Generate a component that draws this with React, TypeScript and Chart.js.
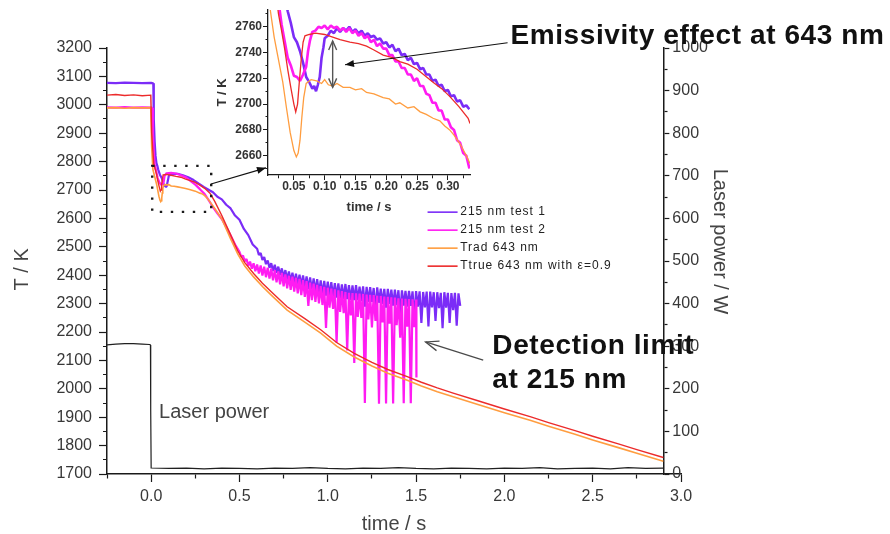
import React, { useEffect, useRef } from "react";
import { Chart, registerables } from "chart.js";

Chart.register(...registerables);

const FONT = "'Liberation Sans', Arial, Helvetica, sans-serif";

const C_PURPLE = "#7b2cf7";
const C_MAGENTA = "#ff1cf2";
const C_ORANGE = "#ff9d3f";
const C_RED = "#ec2b2b";
const C_LASER = "#202020";
const C_AXIS = "#1a1a1a";
const C_TEXT = "#383838";

// ---------------- main chart data ----------------
const purpleTime = [
  -0.25, -0.2, -0.15, -0.1, -0.05, 0, 0.012, 0.015, 0.02, 0.025,
  0.03, 0.035, 0.04, 0.05, 0.06, 0.07, 0.08, 0.087, 0.095, 0.1,
  0.12, 0.15, 0.18, 0.21, 0.24, 0.27, 0.3, 0.33, 0.35, 0.375,
  0.4, 0.425, 0.45, 0.475, 0.5, 0.525, 0.55, 0.575,
  0.6, 0.61, 0.62, 0.63, 0.64, 0.65, 0.66, 0.67, 0.68, 0.69,
  0.7, 0.71, 0.72, 0.73, 0.74, 0.75, 0.76, 0.77, 0.78, 0.79,
  0.8, 0.81, 0.82, 0.83, 0.84, 0.85, 0.86, 0.87, 0.88, 0.89,
  0.9, 0.91, 0.92, 0.93, 0.94, 0.95, 0.96, 0.97, 0.98, 0.99,
  1.0, 1.01, 1.02, 1.03, 1.04, 1.05, 1.06, 1.07, 1.08, 1.09,
  1.1, 1.11, 1.12, 1.13, 1.14, 1.15, 1.16, 1.17, 1.18, 1.19,
  1.2, 1.21, 1.22, 1.23, 1.24, 1.25, 1.26, 1.27, 1.28, 1.29,
  1.3, 1.31, 1.32, 1.33, 1.34, 1.35, 1.36, 1.37, 1.38, 1.39,
  1.4, 1.41, 1.42, 1.43, 1.44, 1.45, 1.46, 1.47, 1.48, 1.49,
  1.5, 1.51, 1.52, 1.53, 1.54, 1.55, 1.56, 1.57, 1.58, 1.59,
  1.6, 1.61, 1.62, 1.63, 1.64, 1.65, 1.66, 1.67, 1.68, 1.69,
  1.7, 1.71, 1.72, 1.73, 1.74, 1.75,
];
const purpleTemp = [
  3077, 3076, 3078, 3077, 3076, 3077, 3076, 2950, 2870, 2820,
  2795, 2785, 2772, 2753, 2742, 2722, 2713, 2711, 2734, 2750,
  2757, 2757, 2752, 2745, 2735, 2722, 2710, 2699, 2692, 2676,
  2667, 2648, 2635, 2610, 2595, 2563, 2541, 2508,
  2493, 2471, 2478, 2454, 2464, 2439, 2452, 2426, 2442, 2415,
  2437, 2409, 2430, 2400, 2424, 2392, 2418, 2385, 2413, 2378,
  2409, 2372, 2405, 2367, 2402, 2362, 2399, 2357, 2396, 2351,
  2392, 2346, 2389, 2341, 2386, 2336, 2382, 2331, 2380, 2328,
  2377, 2326, 2376, 2324, 2372, 2321, 2371, 2318, 2368, 2317,
  2369, 2316, 2365, 2312, 2364, 2312, 2365, 2312, 2360, 2309,
  2361, 2289, 2359, 2306, 2358, 2306, 2355, 2275, 2357, 2303,
  2353, 2299, 2352, 2286, 2352, 2299, 2349, 2293, 2349, 2295,
  2347, 2261, 2347, 2293, 2345, 2289, 2345, 2292, 2343, 2248,
  2344, 2289, 2343, 2232, 2341, 2287, 2342, 2220, 2342, 2287,
  2340, 2239, 2340, 2284, 2338, 2213, 2340, 2286, 2338, 2232,
  2337, 2277, 2338, 2222, 2336, 2292,
];

const magentaTime = [
  -0.25, -0.2, -0.15, -0.1, -0.05, 0.005, 0.01, 0.015, 0.02, 0.026,
  0.037, 0.045, 0.055, 0.062, 0.071, 0.076, 0.087, 0.113, 0.141, 0.168,
  0.195, 0.222, 0.25, 0.276, 0.303, 0.331, 0.35, 0.375, 0.4, 0.425,
  0.45, 0.475,
  0.5, 0.51, 0.52, 0.53, 0.54, 0.55, 0.56, 0.57, 0.58, 0.59,
  0.6, 0.61, 0.62, 0.63, 0.64, 0.65, 0.66, 0.67, 0.68, 0.69,
  0.7, 0.71, 0.72, 0.73, 0.74, 0.75, 0.76, 0.77, 0.78, 0.79,
  0.8, 0.81, 0.82, 0.83, 0.84, 0.85, 0.86, 0.87, 0.88, 0.89,
  0.9, 0.91, 0.92, 0.93, 0.94, 0.95, 0.96, 0.97, 0.98, 0.99,
  1.0, 1.01, 1.02, 1.03, 1.04, 1.05, 1.06, 1.07, 1.08, 1.09,
  1.1, 1.11, 1.12, 1.13, 1.14, 1.15, 1.16, 1.17, 1.18, 1.19,
  1.2, 1.21, 1.22, 1.23, 1.24, 1.25, 1.26, 1.27, 1.28, 1.29,
  1.3, 1.31, 1.32, 1.33, 1.34, 1.35, 1.36, 1.37, 1.38, 1.39,
  1.4, 1.41, 1.42, 1.43, 1.44, 1.45, 1.46, 1.47, 1.48, 1.49,
  1.5, 1.502,
];
const magentaTemp = [
  2991, 2990, 2992, 2990, 2991, 2990, 2900, 2830, 2790, 2773,
  2742, 2729, 2720, 2719, 2729, 2750, 2759, 2760, 2758, 2752,
  2745, 2732, 2719, 2703, 2686, 2659, 2640, 2618, 2598, 2570,
  2540, 2508,
  2482, 2465, 2469, 2449, 2457, 2433, 2448, 2423, 2442, 2414,
  2438, 2406, 2434, 2399, 2430, 2393, 2426, 2388, 2423, 2382,
  2418, 2375, 2413, 2368, 2408, 2361, 2403, 2354, 2398, 2348,
  2395, 2342, 2391, 2336, 2387, 2330, 2383, 2324, 2379, 2292,
  2374, 2312, 2370, 2306, 2366, 2301, 2362, 2295, 2359, 2214,
  2356, 2286, 2353, 2281, 2350, 2162, 2347, 2271, 2344, 2266,
  2341, 2135, 2338, 2258, 2337, 2091, 2336, 2253, 2335, 2250,
  2334, 1950, 2332, 2244, 2331, 2216, 2330, 2239, 2328, 1947,
  2327, 2234, 2325, 1948, 2324, 2229, 2322, 1948, 2321, 2224,
  2319, 2180, 2318, 1949, 2317, 2219, 2316, 1949, 2315, 2217,
  2314, 2040,
];

const orangeTime = [
  -0.25, -0.2, -0.15, -0.1, -0.05, -0.002, 0.003, 0.01, 0.018, 0.024,
  0.032, 0.038, 0.044, 0.05, 0.054, 0.057, 0.06, 0.063, 0.066, 0.07,
  0.078, 0.087, 0.1, 0.113, 0.13, 0.15, 0.168, 0.195, 0.222, 0.25,
  0.276, 0.287, 0.303, 0.31, 0.32, 0.331, 0.36, 0.4, 0.45, 0.49,
  0.53, 0.58, 0.63, 0.68, 0.77, 0.87, 0.96, 1.05, 1.15, 1.25,
  1.34, 1.45, 1.53, 1.62, 1.71, 1.85, 2.0, 2.15, 2.25, 2.4,
  2.5, 2.65, 2.75, 2.9,
];
const orangeTemp = [
  2989, 2990, 2988, 2990, 2989, 2990, 2850, 2772, 2752, 2737,
  2717, 2697, 2678, 2664, 2659, 2662, 2672, 2690, 2705, 2716,
  2719, 2718, 2719, 2714, 2713, 2711, 2709, 2705, 2701, 2696,
  2689, 2687, 2680, 2676, 2669, 2660, 2635, 2598, 2528, 2475,
  2432, 2394, 2360, 2330, 2277, 2235, 2196, 2150, 2112, 2080,
  2055, 2030, 2010, 1990, 1972, 1945, 1916, 1888, 1868, 1840,
  1820, 1792, 1773, 1745,
];

const redTime = [
  -0.25, -0.2, -0.15, -0.1, -0.05, -0.002, 0.003, 0.015, 0.023, 0.03,
  0.039, 0.045, 0.052, 0.056, 0.059, 0.063, 0.068, 0.087, 0.113, 0.141,
  0.168, 0.195, 0.222, 0.25, 0.276, 0.303, 0.333, 0.36, 0.4, 0.45,
  0.49, 0.53, 0.58, 0.63, 0.68, 0.77, 0.87, 0.96, 1.05, 1.15,
  1.25, 1.34, 1.45, 1.53, 1.62, 1.71, 1.85, 2.0, 2.15, 2.25,
  2.4, 2.5, 2.65, 2.75, 2.9,
];
const redTemp = [
  3034, 3036, 3033, 3035, 3032, 3034, 2900, 2790, 2773, 2757,
  2729, 2713, 2696, 2700, 2718, 2735, 2753, 2755, 2752, 2748,
  2745, 2738, 2733, 2727, 2717, 2706, 2689, 2660, 2610, 2542,
  2486, 2444, 2406, 2372, 2342, 2289, 2247, 2208, 2163, 2125,
  2093, 2068, 2043, 2023, 2003, 1985, 1958, 1929, 1901, 1881,
  1853, 1833, 1805, 1786, 1758,
];

const laserTime = [
  -0.25, -0.2, -0.15, -0.1, -0.05, -0.01, -0.004, -0.003, -0.002, 0.0,
  0.1, 0.2, 0.3, 0.4, 0.5, 0.6, 0.7, 0.8, 0.9, 1.0,
  1.1, 1.2, 1.3, 1.4, 1.5, 1.6, 1.7, 1.8, 1.9, 2.0,
  2.1, 2.2, 2.3, 2.4, 2.5, 2.6, 2.7, 2.8, 2.9,
];
const laserPower = [
  303, 305, 306, 306, 305, 304, 303, 160, 150, 14,
  13, 14, 12, 14, 13, 12, 14, 13, 15, 13,
  12, 14, 13, 15, 13, 12, 14, 13, 12, 14,
  13, 15, 12, 13, 14, 12, 15, 13, 14,
];

// ---------------- inset data ----------------
const insetPurpleTime = [
  0.035, 0.04, 0.045, 0.05, 0.055, 0.06, 0.065, 0.07, 0.075, 0.08,
  0.083, 0.086, 0.089, 0.092, 0.095, 0.098, 0.1, 0.105, 0.11, 0.115,
  0.12, 0.125, 0.13, 0.135, 0.14, 0.145, 0.15, 0.155, 0.16, 0.165,
  0.17, 0.175, 0.18, 0.185, 0.19, 0.195, 0.2, 0.205, 0.21, 0.215,
  0.22, 0.225, 0.23, 0.235, 0.24, 0.245, 0.25, 0.255, 0.26, 0.265,
  0.27, 0.275, 0.28, 0.285, 0.29, 0.295, 0.3, 0.305, 0.31, 0.315,
  0.32, 0.325, 0.33, 0.335,
];
const insetPurpleTemp = [
  2785, 2772, 2763, 2752, 2748, 2741, 2732, 2721, 2717, 2712,
  2714, 2710, 2715, 2721, 2736, 2744, 2751, 2753, 2757, 2755,
  2759, 2756, 2759, 2757, 2760, 2756, 2758, 2755, 2757, 2753,
  2755, 2752, 2753, 2750, 2751, 2747, 2748, 2744, 2746, 2741,
  2743, 2738, 2739, 2734, 2736, 2731, 2732, 2727, 2728, 2723,
  2723, 2718, 2719, 2714, 2715, 2710, 2711, 2706, 2707, 2702,
  2703, 2698, 2699, 2696,
];
const insetMagentaTime = [
  0.025, 0.03, 0.035, 0.04, 0.045, 0.05, 0.055, 0.06, 0.065, 0.07,
  0.073, 0.076, 0.08, 0.085, 0.09, 0.095, 0.1, 0.105, 0.11, 0.115,
  0.12, 0.125, 0.13, 0.135, 0.14, 0.145, 0.15, 0.155, 0.16, 0.165,
  0.17, 0.175, 0.18, 0.185, 0.19, 0.195, 0.2, 0.205, 0.21, 0.215,
  0.22, 0.225, 0.23, 0.235, 0.24, 0.245, 0.25, 0.255, 0.26, 0.265,
  0.27, 0.275, 0.28, 0.285, 0.29, 0.295, 0.3, 0.305, 0.31, 0.315,
  0.32, 0.325, 0.33, 0.335,
];
const insetMagentaTemp = [
  2780, 2762, 2749, 2736, 2730, 2722, 2721, 2718, 2723, 2729,
  2741, 2749, 2756, 2757, 2760, 2759, 2761, 2758, 2761, 2759,
  2760, 2757, 2759, 2756, 2759, 2755, 2757, 2753, 2755, 2751,
  2753, 2748, 2750, 2745, 2747, 2743, 2743, 2738, 2738, 2733,
  2733, 2728, 2728, 2723, 2723, 2718, 2720, 2714, 2714, 2708,
  2707, 2701, 2701, 2695, 2695, 2688, 2688, 2682, 2680, 2672,
  2670, 2662, 2660, 2650,
];
const insetRedTime = [
  0.02, 0.025, 0.03, 0.035, 0.04, 0.045, 0.05, 0.053, 0.056, 0.059,
  0.062, 0.065, 0.068, 0.075, 0.085, 0.1, 0.113, 0.125, 0.141, 0.155,
  0.168, 0.18, 0.195, 0.21, 0.222, 0.235, 0.25, 0.263, 0.276, 0.29,
  0.303, 0.318, 0.333, 0.336,
];
const insetRedTemp = [
  2790, 2770, 2757, 2743, 2727, 2713, 2700, 2694, 2700, 2718,
  2735, 2748, 2753, 2754, 2755, 2754, 2752, 2750, 2748, 2747,
  2745, 2742, 2738, 2736, 2733, 2731, 2727, 2722, 2717, 2712,
  2706, 2698, 2689, 2685,
];
const insetOrangeTime = [
  0.008, 0.012, 0.018, 0.024, 0.032, 0.038, 0.044, 0.05, 0.054, 0.057,
  0.06, 0.063, 0.066, 0.07, 0.078, 0.087, 0.095, 0.1, 0.106, 0.113,
  0.12, 0.13, 0.141, 0.15, 0.16, 0.168, 0.18, 0.195, 0.205, 0.215,
  0.222, 0.235, 0.245, 0.255, 0.265, 0.276, 0.287, 0.295, 0.303, 0.31,
  0.32, 0.33, 0.336,
];
const insetOrangeTemp = [
  2790, 2772, 2752, 2737, 2717, 2697, 2678, 2664, 2659, 2662,
  2672, 2690, 2705, 2716, 2719, 2718, 2716, 2719, 2715, 2714,
  2716, 2713, 2713, 2711, 2712, 2709, 2708, 2705, 2704, 2700,
  2701, 2697, 2698, 2694, 2692, 2689, 2687, 2683, 2680, 2676,
  2669, 2660, 2654,
];

// ---------------- axis ranges / annotation anchors (data units) ----------------
const X_MIN = -0.25, X_MAX = 3.0, RIGHT_AXIS_AT = 2.9;
const T_MIN = 1700, T_MAX = 3200, P_MIN = 0, P_MAX = 1000;
const IX_MIN = 0.008, IX_MAX = 0.336, IT_MIN = 2645, IT_MAX = 2773;

const BOX = { t0: 0.006, t1: 0.34, T0: 2623, T1: 2785 };
const ZOOM_ARROW = { t0: 0.339, T0: 2721, t1: 0.65, T1: 2778 };
const DETECT_ARROW = { t0: 1.88, T0: 2101, t1: 1.554, T1: 2165 };
const EMISS_TEXT = { t: 2.034, T: 3242 };
const DETECT_TEXT = { t: 1.932, T1: 2151, T2: 2031 };
const LASER_TEXT = { t: 0.045, T: 1915 };
const LEGEND_AT = { t0: 1.565, t1: 1.735, tText: 1.75, T: 2622 };
const EMISS_GAP = { t: 0.113, T0: 2749, T1: 2713 };
const EMISS_POINTER = { t0: 0.397, T0: 2747.6, t1: 0.133, T1: 2730.5 };

const pts = (xs: number[], ys: number[]) => xs.map((x, i) => ({ x, y: ys[i] }));
const isMult = (v: number, step: number) =>
  Math.abs(v / step - Math.round(v / step)) < 1e-6;

function seg(ctx: any, x1: number, y1: number, x2: number, y2: number) {
  ctx.beginPath();
  ctx.moveTo(x1, y1);
  ctx.lineTo(x2, y2);
  ctx.stroke();
}
function head(ctx: any, x1: number, y1: number, x2: number, y2: number, len: number, half: number, filled: boolean) {
  const a = Math.atan2(y2 - y1, x2 - x1);
  const bx = x2 - len * Math.cos(a), by = y2 - len * Math.sin(a);
  const ox = half * Math.sin(a), oy = -half * Math.cos(a);
  ctx.beginPath();
  ctx.moveTo(bx + ox, by + oy);
  ctx.lineTo(x2, y2);
  ctx.lineTo(bx - ox, by - oy);
  if (filled) {
    ctx.closePath();
    ctx.fill();
  } else ctx.stroke();
}

const mainNotes = {
  id: "mainNotes",
  afterLayout(chart: any) {
    const xs = chart.scales.x, r = chart.scales.y2;
    const px = xs.getPixelForValue(RIGHT_AXIS_AT);
    const w = r.right - r.left;
    r.left = px;
    r.right = px + w;
  },
  afterDraw(chart: any) {
    const { ctx } = chart;
    const xs = chart.scales.x, ys = chart.scales.y;
    const X = (t: number) => xs.getPixelForValue(t);
    const Y = (T: number) => ys.getPixelForValue(T);
    ctx.save();
    // dotted zoom box
    ctx.strokeStyle = "#1a1a1a";
    ctx.lineWidth = 2.4;
    ctx.setLineDash([2.4, 8.6]);
    ctx.beginPath();
    ctx.rect(X(BOX.t0), Y(BOX.T1), X(BOX.t1) - X(BOX.t0), Y(BOX.T0) - Y(BOX.T1));
    ctx.stroke();
    ctx.setLineDash([]);
    // arrow box -> inset
    ctx.strokeStyle = "#111";
    ctx.fillStyle = "#111";
    ctx.lineWidth = 1.2;
    const a = [X(ZOOM_ARROW.t0), Y(ZOOM_ARROW.T0), X(ZOOM_ARROW.t1), Y(ZOOM_ARROW.T1)];
    seg(ctx, a[0], a[1], a[2], a[3]);
    head(ctx, a[0], a[1], a[2], a[3], 9, 3.5, true);
    // detection-limit arrow
    ctx.strokeStyle = "#4a4a4a";
    ctx.lineWidth = 1.3;
    const d = [X(DETECT_ARROW.t0), Y(DETECT_ARROW.T0), X(DETECT_ARROW.t1), Y(DETECT_ARROW.T1)];
    seg(ctx, d[0], d[1], d[2], d[3]);
    head(ctx, d[0], d[1], d[2], d[3], 13, 5, false);
    // big texts
    ctx.fillStyle = "#111";
    ctx.textAlign = "left";
    ctx.textBaseline = "middle";
    ctx.font = `bold 28px ${FONT}`;
    ctx.letterSpacing = "0.6px";
    ctx.fillText("Emissivity effect at 643 nm", X(EMISS_TEXT.t), Y(EMISS_TEXT.T));
    ctx.fillText("Detection limit", X(DETECT_TEXT.t), Y(DETECT_TEXT.T1));
    ctx.fillText("at 215 nm", X(DETECT_TEXT.t), Y(DETECT_TEXT.T2));
    ctx.letterSpacing = "0px";
    ctx.fillStyle = "#444";
    ctx.font = `20px ${FONT}`;
    ctx.fillText("Laser power", X(LASER_TEXT.t), Y(LASER_TEXT.T));
    // legend
    ctx.font = `12px ${FONT}`;
    ctx.letterSpacing = "1px";
    [0, 1, 2, 3].forEach((di, k) => {
      const ds = chart.data.datasets[di];
      const yy = Y(LEGEND_AT.T) + k * 18;
      ctx.strokeStyle = ds.borderColor;
      ctx.lineWidth = 1.6;
      seg(ctx, X(LEGEND_AT.t0), yy, X(LEGEND_AT.t1), yy);
      ctx.fillStyle = "#222";
      ctx.fillText(ds.label, X(LEGEND_AT.tText), yy);
    });
    ctx.letterSpacing = "0px";
    ctx.restore();
  },
};

const insetNotes = {
  id: "insetNotes",
  afterDraw(chart: any) {
    const { ctx } = chart;
    const xs = chart.scales.x, ys = chart.scales.y;
    const X = (t: number) => xs.getPixelForValue(t);
    const Y = (T: number) => ys.getPixelForValue(T);
    ctx.save();
    ctx.strokeStyle = "#555";
    ctx.lineWidth = 1.4;
    const gx = X(EMISS_GAP.t), g0 = Y(EMISS_GAP.T0), g1 = Y(EMISS_GAP.T1);
    seg(ctx, gx, g0, gx, g1);
    head(ctx, gx, g1, gx, g0, 9, 4, false);
    head(ctx, gx, g0, gx, g1, 9, 4, false);
    ctx.strokeStyle = "#111";
    ctx.fillStyle = "#111";
    ctx.lineWidth = 1.1;
    const p = [X(EMISS_POINTER.t0), Y(EMISS_POINTER.T0), X(EMISS_POINTER.t1), Y(EMISS_POINTER.T1)];
    seg(ctx, p[0], p[1], p[2], p[3]);
    head(ctx, p[0], p[1], p[2], p[3], 9, 3.5, true);
    ctx.restore();
  },
};

function makeMain(): any {
  const tickFont = { family: FONT, size: 16 };
  const titleFont = { family: FONT, size: 20, lineHeight: 1 };
  const border = { color: C_AXIS, width: 1.5 };
  return {
    type: "line",
    data: {
      datasets: [
        { label: "215 nm test 1", data: pts(purpleTime, purpleTemp), borderColor: C_PURPLE, borderWidth: 2.2, borderJoinStyle: "bevel", yAxisID: "y", order: 3 },
        { label: "215 nm test 2", data: pts(magentaTime, magentaTemp), borderColor: C_MAGENTA, borderWidth: 2.2, borderJoinStyle: "bevel", yAxisID: "y", order: 2 },
        { label: "Trad 643 nm", data: pts(orangeTime, orangeTemp), borderColor: C_ORANGE, borderWidth: 1.6, yAxisID: "y", order: 1 },
        { label: "Ttrue 643 nm with ε=0.9", data: pts(redTime, redTemp), borderColor: C_RED, borderWidth: 1.4, yAxisID: "y", order: 0 },
        { label: "Laser power", data: pts(laserTime, laserPower), borderColor: C_LASER, borderWidth: 1.2, yAxisID: "y2", order: 4 },
      ],
    },
    options: {
      animation: false,
      responsive: false,
      devicePixelRatio: 1,
      events: [],
      elements: { point: { radius: 0 }, line: { tension: 0 } },
      layout: { padding: { top: 48, left: 0, right: 0, bottom: 0 } },
      plugins: { legend: { display: false }, tooltip: { enabled: false } },
      scales: {
        x: {
          type: "linear", position: "bottom", min: X_MIN, max: X_MAX,
          afterFit: (s: any) => { s.height = 60; },
          ticks: {
            stepSize: 0.25, autoSkip: false, maxRotation: 0, includeBounds: false, padding: 5,
            font: tickFont, color: C_TEXT,
            callback: (v: number) => (isMult(v, 0.5) ? Number(v).toFixed(1) : ""),
          },
          grid: {
            drawOnChartArea: false, tickLength: 8, tickWidth: 1.2, tickColor: C_AXIS,
            tickBorderDash: (c: any) => (c.tick && !isMult(c.tick.value, 0.5) ? [4, 100] : []),
          },
          border,
          title: { display: true, text: "time / s", font: titleFont, color: "#444", padding: { top: 0, bottom: 0 } },
        },
        y: {
          type: "linear", position: "left", min: T_MIN, max: T_MAX,
          afterFit: (s: any) => { s.width = 107; },
          ticks: {
            stepSize: 50, maxTicksLimit: 1000, autoSkip: false, padding: 7,
            font: tickFont, color: C_TEXT,
            callback: (v: number) => (isMult(v, 100) ? String(v) : ""),
          },
          grid: {
            drawOnChartArea: false, tickLength: 8, tickWidth: 1.2, tickColor: C_AXIS,
            tickBorderDash: (c: any) => (c.tick && !isMult(c.tick.value, 100) ? [0, 4, 4, 100] : []),
          },
          border,
          title: { display: true, text: "T / K   ", font: titleFont, color: "#444", padding: { top: 12, bottom: 0 } },
        },
        y2: {
          type: "linear", position: "right", min: P_MIN, max: P_MAX,
          afterFit: (s: any) => { s.width = 209; },
          ticks: {
            stepSize: 50, maxTicksLimit: 1000, autoSkip: false, padding: 3,
            font: tickFont, color: C_TEXT,
            callback: (v: number) => (isMult(v, 100) ? String(v) : ""),
          },
          grid: {
            drawOnChartArea: false, tickLength: 6, tickWidth: 1.2, tickColor: C_AXIS,
            tickBorderDash: (c: any) => (c.tick && !isMult(c.tick.value, 100) ? [3, 100] : []),
          },
          border,
          title: { display: true, text: "Laser power / W       ", font: titleFont, color: "#444", padding: { top: 143, bottom: 0 } },
        },
      },
    },
    plugins: [mainNotes],
  };
}

function makeInset(): any {
  const tickFont = { family: FONT, size: 12, weight: "bold", lineHeight: 1 };
  const titleFont = { family: FONT, size: 13, weight: "bold", lineHeight: 1 };
  const border = { color: C_AXIS, width: 1.3 };
  return {
    type: "line",
    data: {
      datasets: [
        { label: "215 nm test 1", data: pts(insetPurpleTime, insetPurpleTemp), borderColor: C_PURPLE, borderWidth: 2.6, borderJoinStyle: "bevel", order: 3 },
        { label: "215 nm test 2", data: pts(insetMagentaTime, insetMagentaTemp), borderColor: C_MAGENTA, borderWidth: 2.6, borderJoinStyle: "bevel", order: 2 },
        { label: "Trad 643 nm", data: pts(insetOrangeTime, insetOrangeTemp), borderColor: C_ORANGE, borderWidth: 1.3, order: 1 },
        { label: "Ttrue 643 nm with ε=0.9", data: pts(insetRedTime, insetRedTemp), borderColor: C_RED, borderWidth: 1.3, order: 0 },
      ],
    },
    options: {
      animation: false,
      responsive: false,
      devicePixelRatio: 1,
      events: [],
      elements: { point: { radius: 0 }, line: { tension: 0 } },
      layout: { padding: { top: 10, left: 0, right: 50, bottom: 0 } },
      plugins: { legend: { display: false }, tooltip: { enabled: false } },
      scales: {
        x: {
          type: "linear", position: "bottom", min: IX_MIN, max: IX_MAX,
          afterFit: (s: any) => { s.height = 45; },
          ticks: {
            stepSize: 0.025, autoSkip: false, maxRotation: 0, includeBounds: false, padding: 1,
            font: tickFont, color: "#333",
            callback: (v: number) => (isMult(v, 0.05) ? Number(v).toFixed(2) : ""),
          },
          grid: {
            drawOnChartArea: false, tickLength: 5, tickWidth: 1, tickColor: C_AXIS,
            tickBorderDash: (c: any) => (c.tick && !isMult(c.tick.value, 0.05) ? [3, 100] : []),
          },
          border,
          title: { display: true, text: "time / s", font: titleFont, color: "#333", padding: { top: 0, bottom: 6.5 } },
        },
        y: {
          type: "linear", position: "left", min: IT_MIN, max: IT_MAX,
          afterFit: (s: any) => { s.width = 68; },
          ticks: {
            stepSize: 10, maxTicksLimit: 1000, autoSkip: false, includeBounds: false, padding: 1,
            font: tickFont, color: "#333",
            callback: (v: number) => (isMult(v, 20) ? String(v) : ""),
          },
          grid: {
            drawOnChartArea: false, tickLength: 5, tickWidth: 1, tickColor: C_AXIS,
            tickBorderDash: (c: any) => (c.tick && !isMult(c.tick.value, 20) ? [0, 2.5, 2.5, 100] : []),
          },
          border,
          title: { display: true, text: "T / K", font: titleFont, color: "#333", padding: { top: 15.5, bottom: 0 } },
        },
      },
    },
    plugins: [insetNotes],
  };
}

function ChartCanvas(props: { make: () => any; width: number; height: number; left: number; top: number }) {
  const ref = useRef<HTMLCanvasElement | null>(null);
  useEffect(() => {
    const chart = new Chart(ref.current as HTMLCanvasElement, props.make());
    return () => chart.destroy();
  }, []);
  return (
    <canvas
      ref={ref}
      width={props.width}
      height={props.height}
      style={{ position: "absolute", left: props.left, top: props.top, width: props.width, height: props.height }}
    />
  );
}

export default function App() {
  return (
    <div style={{ position: "fixed", left: 0, top: 0, width: 890, height: 534, background: "#fff", overflow: "hidden" }}>
      <ChartCanvas make={makeMain} width={890} height={534} left={0} top={0} />
      <ChartCanvas make={makeInset} width={320} height={220} left={200} top={0} />
    </div>
  );
}
